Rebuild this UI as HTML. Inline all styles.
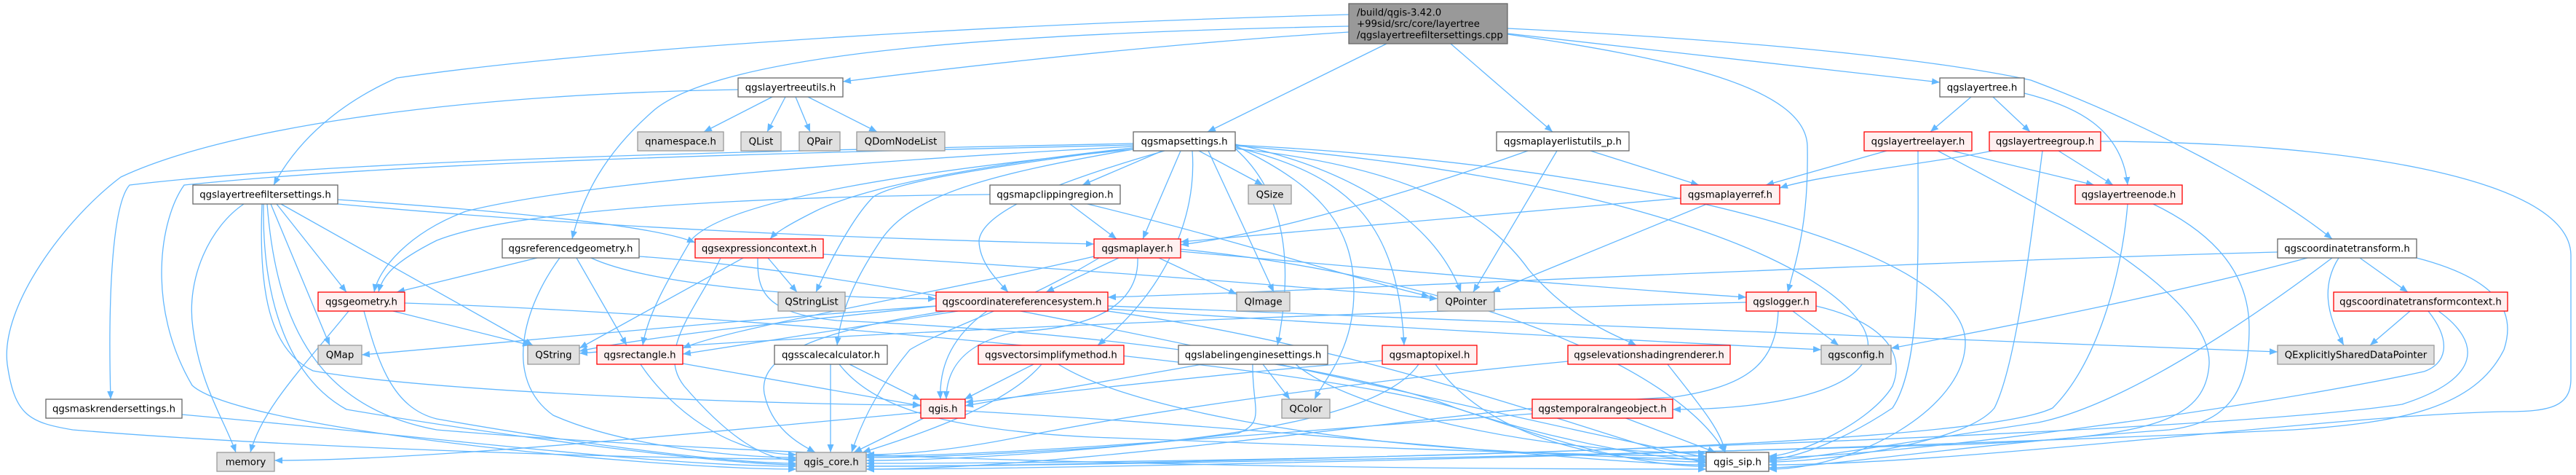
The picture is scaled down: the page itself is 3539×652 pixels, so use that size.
<!DOCTYPE html>
<html>
<head>
<meta charset="utf-8">
<style>
html,body{margin:0;padding:0;background:#fff;}
svg{display:block;}
.e{fill:none;stroke:#63b8ff;stroke-width:1.3;}
.t{font-family:"DejaVu Sans","Liberation Sans",sans-serif;font-size:13.3px;fill:#000;text-anchor:middle;}
.w rect{fill:#fff;stroke:#666;stroke-width:1.3;}
.r rect{fill:#fff0f0;stroke:#ff0000;stroke-width:1.3;}
.g rect{fill:#e0e0e0;stroke:#999;stroke-width:1.3;}
</style>
</head>
<body>
<svg width="3539" height="652" viewBox="0 0 3539 652" xmlns="http://www.w3.org/2000/svg">
<defs>
<marker id="a" markerUnits="userSpaceOnUse" markerWidth="12" markerHeight="9" refX="11" refY="4.5" orient="auto">
<path d="M0,0 L11,4.5 L0,9 z" fill="#63b8ff"/>
</marker>
</defs>
<g class="e" marker-end="url(#a)">
<!-- root -->
<path marker-end="url(#a)" d="M1853,20 C1300,35 800,70 545,107 C470,140 410,190 376,254"/>
<path marker-end="url(#a)" d="M1853,44 C1600,60 1350,88 1158,112"/>
<path marker-end="url(#a)" d="M1853,36 C1400,45 1000,70 900,150 C830,210 800,270 786,328"/>
<path marker-end="url(#a)" d="M1905,60 L1659,181"/>
<path marker-end="url(#a)" d="M1993,60 L2133,181"/>
<path marker-end="url(#a)" d="M2071,46 C2300,70 2500,95 2665,113"/>
<path marker-end="url(#a)" d="M2071,39 C2400,55 2650,80 2790,110 C2950,170 3120,260 3204,328"/>
<path marker-end="url(#a)" d="M2071,47 C2300,80 2480,120 2483,200 C2485,300 2470,350 2456,401"/>
<!-- layertreeutils -->
<path marker-end="url(#a)" d="M1061,133 L967,181"/>
<path marker-end="url(#a)" d="M1079,133 L1054,181"/>
<path marker-end="url(#a)" d="M1093,133 L1113,181"/>
<path marker-end="url(#a)" d="M1110,133 L1205,181"/>
<path marker-end="url(#a)" d="M1014,123 C600,130 300,180 166,243 C90,300 0,420 10,500 C20,570 40,580 100,590 C400,615 900,630 1094,630"/>
<!-- layertree -->
<path marker-end="url(#a)" d="M2708,133 L2652,181"/>
<path marker-end="url(#a)" d="M2738,133 L2789,181"/>
<path marker-end="url(#a)" d="M2781,128 C2850,145 2915,175 2923,254"/>
<!-- layertreelayer -->
<path marker-end="url(#a)" d="M2592,207 L2426,254"/>
<path marker-end="url(#a)" d="M2682,207 L2877,254"/>
<path marker-end="url(#a)" d="M2635,207 C2635,350 2640,500 2600,560 C2540,600 2470,630 2430,630"/>
<path marker-end="url(#a)" d="M2662,207 C2800,280 3040,400 3035,500 C3030,580 2950,600 2700,610 C2000,630 1400,640 1190,640"/>
<!-- layertreegroup -->
<path marker-end="url(#a)" d="M2737,207 C2650,225 2500,240 2445,258"/>
<path marker-end="url(#a)" d="M2828,207 L2903,254"/>
<path marker-end="url(#a)" d="M2806,207 C2790,330 2770,500 2740,560 C2700,610 2500,634 2430,634"/>
<path marker-end="url(#a)" d="M2886,194 C3200,195 3530,240 3532,350 L3532,520 C3532,560 3500,565 3440,565 C3200,570 2700,638 2430,638"/>
<!-- layertreenode -->
<path marker-end="url(#a)" d="M2923,280 C2915,380 2880,500 2820,560 C2700,620 1600,636 1190,636"/>
<path marker-end="url(#a)" d="M2958,280 C3020,310 3090,360 3090,450 C3090,540 3060,580 2980,590 C2700,610 2500,642 2430,642"/>
<!-- maplayerlistutils -->
<path marker-end="url(#a)" d="M2099,207 C1950,260 1750,320 1622,336"/>
<path marker-end="url(#a)" d="M2139,207 L2024,401"/>
<path marker-end="url(#a)" d="M2185,207 L2334,254"/>
<!-- maplayerref -->
<path marker-end="url(#a)" d="M2345,280 L2050,401"/>
<path marker-end="url(#a)" d="M2309,272 C2000,300 1750,320 1622,332"/>
<!-- referencedgeometry -->
<path marker-end="url(#a)" d="M738,354 L545,401"/>
<path marker-end="url(#a)" d="M792,354 L861,474"/>
<path marker-end="url(#a)" d="M769,354 C720,420 690,520 760,570 C850,610 1000,628 1094,628"/>
<path marker-end="url(#a)" d="M812,354 C900,395 1150,410 1286,410"/>
<path marker-end="url(#a)" d="M878,352 C1300,380 2000,560 2344,628"/>
<!-- expressioncontext -->
<path marker-end="url(#a)" d="M1055,354 L1095,401"/>
<path marker-end="url(#a)" d="M1021,354 L796,478"/>
<path marker-end="url(#a)" d="M1041,354 C1040,400 1050,430 1150,440 C1600,460 1900,520 2000,560 C2150,610 2300,632 2344,632"/>
<path marker-end="url(#a)" d="M1131,349 C1500,370 1800,395 1975,410"/>
<path marker-end="url(#a)" d="M990,354 C960,420 900,480 940,530 C1000,600 1050,632 1094,632"/>
<!-- maplayer -->
<path marker-end="url(#a)" d="M1537,354 L1437,401"/>
<path marker-end="url(#a)" d="M1592,354 L1699,404"/>
<path marker-end="url(#a)" d="M1503,352 C1300,400 1000,450 938,478"/>
<path marker-end="url(#a)" d="M1563,354 C1565,420 1500,450 1400,455 C1320,470 1300,510 1300,548"/>
<path marker-end="url(#a)" d="M1622,342 C2000,380 2300,500 2370,621"/>
<path marker-end="url(#a)" d="M1622,345 C1900,370 2200,395 2399,408"/>
<path marker-end="url(#a)" d="M1510,354 C1400,420 1300,450 1250,480 C1200,540 1180,590 1170,621"/>
<!-- crs -->
<path marker-end="url(#a)" d="M1288,420 C1100,440 900,460 796,482"/>
<path marker-end="url(#a)" d="M1316,427 L938,486"/>
<path marker-end="url(#a)" d="M1356,427 C1310,460 1290,500 1292,548"/>
<path marker-end="url(#a)" d="M1300,427 C1150,450 1040,480 1050,540 C1060,590 1100,610 1120,621"/>
<path marker-end="url(#a)" d="M1522,420 C2000,440 2800,470 3129,483"/>
<path marker-end="url(#a)" d="M1522,424 C1900,450 2300,470 2502,480"/>
<path marker-end="url(#a)" d="M1522,427 C1900,480 2200,600 2344,636"/>
<path marker-end="url(#a)" d="M1286,420 C1000,440 700,470 497,487"/>
<!-- geometry -->
<path marker-end="url(#a)" d="M479,427 C420,500 360,560 344,621"/>
<path marker-end="url(#a)" d="M540,427 L729,474"/>
<path marker-end="url(#a)" d="M500,427 C520,500 540,560 600,575 C800,610 1000,636 1094,636"/>
<path marker-end="url(#a)" d="M556,416 C1000,430 1800,500 2000,560 C2150,610 2250,640 2344,640"/>
<!-- rectangle -->
<path marker-end="url(#a)" d="M938,499 L1265,557"/>
<path marker-end="url(#a)" d="M880,500 C920,560 1000,624 1094,624"/>
<!-- scalecalculator -->
<path marker-end="url(#a)" d="M1141,500 L1141,621"/>
<path marker-end="url(#a)" d="M1167,500 L1265,549"/>
<path marker-end="url(#a)" d="M1153,500 C1200,560 1300,590 1500,600 C1900,615 2200,626 2344,626"/>
<!-- vectorsimplify -->
<path marker-end="url(#a)" d="M1420,500 L1325,548"/>
<path marker-end="url(#a)" d="M1431,500 C1380,560 1250,600 1185,621"/>
<path marker-end="url(#a)" d="M1454,500 C1550,560 1800,600 2000,615 C2200,628 2300,630 2344,630"/>
<!-- labeling -->
<path marker-end="url(#a)" d="M1652,500 L1326,557"/>
<path marker-end="url(#a)" d="M1735,500 L1772,548"/>
<path marker-end="url(#a)" d="M1721,500 C1720,560 1740,580 1700,595 C1500,620 1300,632 1190,632"/>
<path marker-end="url(#a)" d="M1780,500 C1850,560 2100,622 2344,622"/>
<!-- maptopixel -->
<path marker-end="url(#a)" d="M1899,495 C1700,510 1450,540 1326,552"/>
<path marker-end="url(#a)" d="M1949,500 C1900,570 1700,600 1500,615 C1350,625 1250,628 1190,628"/>
<path marker-end="url(#a)" d="M1972,500 C2030,580 2150,634 2344,634"/>
<!-- elevation -->
<path marker-end="url(#a)" d="M2291,500 C2330,550 2365,590 2370,621"/>
<path marker-end="url(#a)" d="M2154,496 C1900,520 1600,560 1400,600 C1300,620 1230,624 1190,624"/>
<!-- logger -->
<path marker-end="url(#a)" d="M2463,427 L2526,474"/>
<path marker-end="url(#a)" d="M2495,420 C2580,440 2620,480 2600,530 C2570,580 2470,626 2430,626"/>
<path marker-end="url(#a)" d="M2443,427 C2440,500 2400,530 2300,545 C2000,560 1500,644 1190,644"/>
<path marker-end="url(#a)" d="M2399,415 C1800,430 1100,460 796,485"/>
<!-- temporal -->
<path marker-end="url(#a)" d="M2231,573 L2357,621"/>
<path marker-end="url(#a)" d="M2105,568 C1800,590 1400,626 1190,626"/>
<!-- coordinatetransform -->
<path marker-end="url(#a)" d="M3242,354 L3308,401"/>
<path marker-end="url(#a)" d="M3213,354 C3190,390 3195,430 3220,474"/>
<path marker-end="url(#a)" d="M3129,346 C2600,360 1800,400 1522,408"/>
<path marker-end="url(#a)" d="M3170,354 C3000,400 2750,450 2598,478"/>
<path marker-end="url(#a)" d="M3204,354 C3050,470 2900,560 2800,580 C2600,610 2470,632 2430,632"/>
<path marker-end="url(#a)" d="M3320,354 C3420,380 3460,420 3440,480 C3400,560 3300,580 3150,590 C2500,620 1500,644 1190,644"/>
<!-- ctcontext -->
<path marker-end="url(#a)" d="M3311,427 L3256,474"/>
<path marker-end="url(#a)" d="M3336,427 C3370,470 3360,500 3330,510 C3100,560 2600,628 2430,628"/>
<path marker-end="url(#a)" d="M3350,427 C3410,470 3410,520 3300,555 C3000,600 1600,640 1190,640"/>
<!-- mask -->
<path marker-end="url(#a)" d="M250,569 C600,600 900,640 1094,640"/>
<!-- qgis.h -->
<path marker-end="url(#a)" d="M1271,573 L1173,621"/>
<path marker-end="url(#a)" d="M1326,564 C1800,590 2200,638 2344,638"/>
<path marker-end="url(#a)" d="M1265,566 C1000,590 600,632 377,632"/>
<!-- mapsettings -->
<path marker-end="url(#a)" d="M1597,207 L1487,254"/>
<path marker-end="url(#a)" d="M1622,207 L1570,328"/>
<path marker-end="url(#a)" d="M1647,207 L1735,254"/>
<path marker-end="url(#a)" d="M1557,197 C1200,205 500,215 178,254 C155,280 148,400 152,548"/>
<path marker-end="url(#a)" d="M1557,199 C1200,208 600,218 253,254 C220,300 200,420 264,529 C330,590 900,644 1094,644"/>
<path marker-end="url(#a)" d="M1557,201 C1200,220 800,250 640,290 C560,320 520,370 514,401"/>
<path marker-end="url(#a)" d="M1557,203 C1400,220 1200,250 1120,290 C1080,310 1065,320 1058,328"/>
<path marker-end="url(#a)" d="M1557,205 C1300,230 1000,270 949,330 C920,380 890,430 883,474"/>
<path marker-end="url(#a)" d="M1557,205 C1350,240 1250,270 1210,330 C1170,390 1155,430 1150,474"/>
<path marker-end="url(#a)" d="M1600,207 C1450,250 1350,290 1345,330 C1345,360 1370,385 1385,401"/>
<path marker-end="url(#a)" d="M1557,203 C1350,230 1230,250 1200,270 C1170,300 1140,360 1121,401"/>
<path marker-end="url(#a)" d="M1638,207 C1645,300 1600,400 1508,474"/>
<path marker-end="url(#a)" d="M1660,207 L1750,401"/>
<path marker-end="url(#a)" d="M1697,204 C1760,260 1780,350 1755,474"/>
<path marker-end="url(#a)" d="M1697,200 C1800,250 1860,300 1860,400 C1860,480 1820,520 1806,548"/>
<path marker-end="url(#a)" d="M1697,202 C1850,240 1920,300 1929,474"/>
<path marker-end="url(#a)" d="M1697,204 C1950,230 2050,300 2100,370 C2160,440 2220,460 2248,474"/>
<path marker-end="url(#a)" d="M1697,198 C1850,230 1970,300 2007,401"/>
<path marker-end="url(#a)" d="M1697,200 C2200,240 2500,350 2560,450 C2600,530 2450,562 2298,562"/>
<path marker-end="url(#a)" d="M1697,199 C2300,230 2700,350 2700,470 C2700,560 2550,644 2430,644"/>
<!-- clipping region -->
<path marker-end="url(#a)" d="M1360,267 C1000,270 700,290 600,330 C540,360 525,380 520,401"/>
<path marker-end="url(#a)" d="M1470,280 L1534,328"/>
<path marker-end="url(#a)" d="M1494,280 C1700,330 1850,380 1964,407"/>
<!-- layertreefiltersettings.h -->
<path marker-end="url(#a)" d="M464,274 C700,290 900,310 955,333"/>
<path marker-end="url(#a)" d="M464,280 C900,320 1300,330 1503,335"/>
<path marker-end="url(#a)" d="M380,280 L476,401"/>
<path marker-end="url(#a)" d="M372,280 L453,474"/>
<path marker-end="url(#a)" d="M386,280 L732,474"/>
<path marker-end="url(#a)" d="M335,280 C290,310 255,380 265,450 C275,530 310,580 324,621"/>
<path marker-end="url(#a)" d="M360,280 C355,400 370,480 430,509 C600,540 1100,556 1265,556"/>
<path marker-end="url(#a)" d="M362,280 C360,420 400,520 476,562 C700,600 1000,638 1094,638"/>
<path marker-end="url(#a)" d="M367,280 C380,450 440,560 600,590 C1200,640 2000,644 2344,644"/>
</g>

<!-- root -->
<g>
<rect x="1853" y="5" width="218" height="55" fill="#999999" stroke="#666666" stroke-width="1.3"/>
<text x="1864" y="21.5" font-family="DejaVu Sans, Liberation Sans, sans-serif" font-size="13.3">/build/qgis-3.42.0</text>
<text x="1864" y="37" font-family="DejaVu Sans, Liberation Sans, sans-serif" font-size="13.3">+99sid/src/core/layertree</text>
<text x="1864" y="52.5" font-family="DejaVu Sans, Liberation Sans, sans-serif" font-size="13.3">/qgslayertreefiltersettings.cpp</text>
</g>

<g class="w"><rect x="1014" y="107" width="144" height="26"/><text class="t" x="1086" y="124.5">qgslayertreeutils.h</text></g>
<g class="w"><rect x="2665" y="107" width="116" height="26"/><text class="t" x="2723" y="124.5">qgslayertree.h</text></g>

<g class="g"><rect x="876" y="181" width="118" height="26"/><text class="t" x="935" y="198.5">qnamespace.h</text></g>
<g class="g"><rect x="1018" y="181" width="55" height="26"/><text class="t" x="1045.5" y="198.5">QList</text></g>
<g class="g"><rect x="1098" y="181" width="56" height="26"/><text class="t" x="1126" y="198.5">QPair</text></g>
<g class="g"><rect x="1177" y="181" width="121" height="26"/><text class="t" x="1237.5" y="198.5">QDomNodeList</text></g>
<g class="w"><rect x="1557" y="181" width="140" height="26"/><text class="t" x="1627" y="198.5">qgsmapsettings.h</text></g>
<g class="w"><rect x="2056" y="181" width="182" height="26"/><text class="t" x="2147" y="198.5">qgsmaplayerlistutils_p.h</text></g>
<g class="r"><rect x="2561" y="181" width="148" height="26"/><text class="t" x="2635" y="198.5">qgslayertreelayer.h</text></g>
<g class="r"><rect x="2733" y="181" width="153" height="26"/><text class="t" x="2809.5" y="198.5">qgslayertreegroup.h</text></g>

<g class="w"><rect x="265" y="254" width="199" height="26"/><text class="t" x="364.5" y="271.5">qgslayertreefiltersettings.h</text></g>
<g class="w"><rect x="1360" y="254" width="179" height="26"/><text class="t" x="1449.5" y="271.5">qgsmapclippingregion.h</text></g>
<g class="g"><rect x="1715" y="254" width="59" height="26"/><text class="t" x="1744.5" y="271.5">QSize</text></g>
<g class="r"><rect x="2309" y="254" width="136" height="26"/><text class="t" x="2377" y="271.5">qgsmaplayerref.h</text></g>
<g class="r"><rect x="2851" y="254" width="147" height="26"/><text class="t" x="2924.5" y="271.5">qgslayertreenode.h</text></g>

<g class="w"><rect x="690" y="328" width="188" height="26"/><text class="t" x="784" y="345.5">qgsreferencedgeometry.h</text></g>
<g class="r"><rect x="955" y="328" width="176" height="26"/><text class="t" x="1043" y="345.5">qgsexpressioncontext.h</text></g>
<g class="r"><rect x="1503" y="328" width="119" height="26"/><text class="t" x="1562.5" y="345.5">qgsmaplayer.h</text></g>
<g class="w"><rect x="3129" y="328" width="191" height="26"/><text class="t" x="3224.5" y="345.5">qgscoordinatetransform.h</text></g>

<g class="r"><rect x="437" y="401" width="119" height="26"/><text class="t" x="496.5" y="418.5">qgsgeometry.h</text></g>
<g class="g"><rect x="1069" y="401" width="92" height="26"/><text class="t" x="1115" y="418.5">QStringList</text></g>
<g class="r"><rect x="1286" y="401" width="236" height="26"/><text class="t" x="1404" y="418.5">qgscoordinatereferencesystem.h</text></g>
<g class="g"><rect x="1699" y="401" width="73" height="26"/><text class="t" x="1735.5" y="418.5">QImage</text></g>
<g class="g"><rect x="1975" y="401" width="78" height="26"/><text class="t" x="2014" y="418.5">QPointer</text></g>
<g class="r"><rect x="2399" y="401" width="96" height="26"/><text class="t" x="2447" y="418.5">qgslogger.h</text></g>
<g class="r"><rect x="3206" y="401" width="239" height="26"/><text class="t" x="3325.5" y="418.5">qgscoordinatetransformcontext.h</text></g>

<g class="g"><rect x="437" y="474" width="60" height="26"/><text class="t" x="467" y="491.5">QMap</text></g>
<g class="g"><rect x="725" y="474" width="71" height="26"/><text class="t" x="760.5" y="491.5">QString</text></g>
<g class="r"><rect x="820" y="474" width="118" height="26"/><text class="t" x="879" y="491.5">qgsrectangle.h</text></g>
<g class="w"><rect x="1064" y="474" width="155" height="26"/><text class="t" x="1141.5" y="491.5">qgsscalecalculator.h</text></g>
<g class="r"><rect x="1344" y="474" width="200" height="26"/><text class="t" x="1444" y="491.5">qgsvectorsimplifymethod.h</text></g>
<g class="w"><rect x="1619" y="474" width="205" height="26"/><text class="t" x="1721.5" y="491.5">qgslabelingenginesettings.h</text></g>
<g class="r"><rect x="1899" y="474" width="130" height="26"/><text class="t" x="1964" y="491.5">qgsmaptopixel.h</text></g>
<g class="r"><rect x="2154" y="474" width="223" height="26"/><text class="t" x="2265.5" y="491.5">qgselevationshadingrenderer.h</text></g>
<g class="g"><rect x="2502" y="474" width="96" height="26"/><text class="t" x="2550" y="491.5">qgsconfig.h</text></g>
<g class="g"><rect x="3129" y="474" width="215" height="26"/><text class="t" x="3236.5" y="491.5">QExplicitlySharedDataPointer</text></g>

<g class="w"><rect x="63" y="548" width="187" height="26"/><text class="t" x="156.5" y="565.5">qgsmaskrendersettings.h</text></g>
<g class="r"><rect x="1265" y="548" width="61" height="26"/><text class="t" x="1295.5" y="565.5">qgis.h</text></g>
<g class="g"><rect x="1761" y="548" width="66" height="26"/><text class="t" x="1794" y="565.5">QColor</text></g>
<g class="r"><rect x="2105" y="548" width="193" height="26"/><text class="t" x="2201.5" y="565.5">qgstemporalrangeobject.h</text></g>

<g class="g"><rect x="298" y="621" width="79" height="26"/><text class="t" x="337.5" y="638.5">memory</text></g>
<g class="g"><rect x="1094" y="621" width="96" height="26"/><text class="t" x="1142" y="638.5">qgis_core.h</text></g>
<g class="w"><rect x="2344" y="621" width="86" height="26"/><text class="t" x="2387" y="638.5">qgis_sip.h</text></g>
</svg>
</body>
</html>
